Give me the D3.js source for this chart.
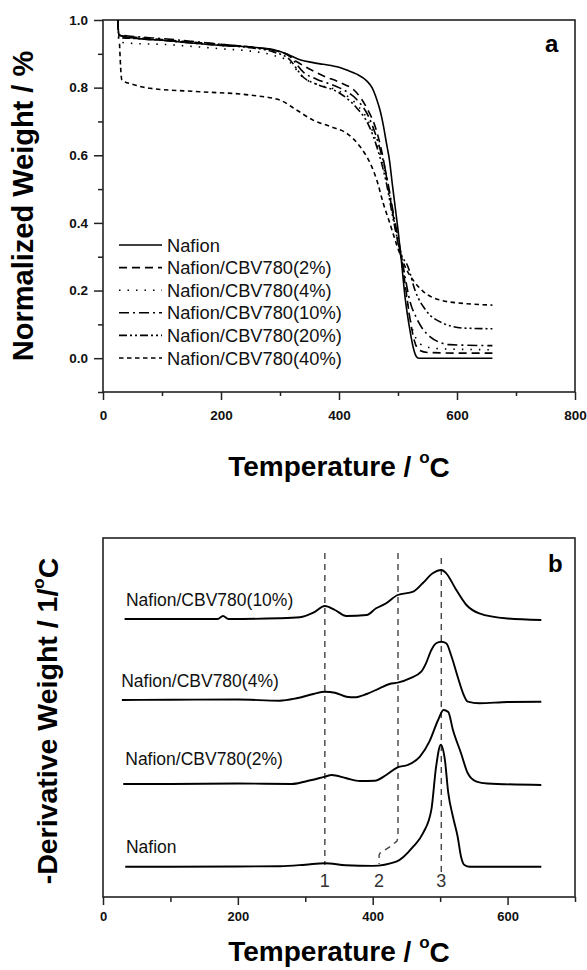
<!DOCTYPE html>
<html>
<head>
<meta charset="utf-8">
<script src="https://cdn.jsdelivr.net/npm/d3@7"></script>
<style>
body { margin: 0; background: #fff; }
text { font-family: Arial, "Liberation Sans", Helvetica, sans-serif; }
</style>
</head>
<body>
<div id="chart-area"></div>
<script>
// TGA (a) + DTG (b) curves for Nafion / CBV780 membranes

const WIDTH = 587
const HEIGHT = 970

// ---- panel a : normalized weight vs temperature
const tgaNames = ["Nafion", "Nafion/CBV780(2%)", "Nafion/CBV780(4%)", "Nafion/CBV780(10%)", "Nafion/CBV780(20%)", "Nafion/CBV780(40%)"]

const tgaNafion = [[25, 1.0], [27, 0.955], [60, 0.945], [100, 0.94], [150, 0.932], [200, 0.925], [250, 0.92], [290, 0.912], [316, 0.896], [335, 0.882], [356, 0.874], [373, 0.869], [400, 0.86], [413, 0.852], [430, 0.84], [447, 0.82], [456, 0.80], [464, 0.765], [470, 0.73], [475, 0.69], [480, 0.64], [486, 0.58], [490, 0.52], [495, 0.45], [500, 0.38], [505, 0.30], [512, 0.18], [520, 0.085], [526, 0.03], [531, 0.005], [535, 0], [660, 0]]
const tga2 = [[25, 1.0], [27, 0.955], [60, 0.948], [100, 0.942], [150, 0.935], [200, 0.928], [250, 0.92], [290, 0.91], [310, 0.9], [330, 0.875], [350, 0.855], [373, 0.835], [402, 0.815], [430, 0.785], [447, 0.74], [464, 0.67], [475, 0.59], [483, 0.51], [492, 0.42], [500, 0.34], [505, 0.30], [512, 0.22], [520, 0.12], [528, 0.05], [535, 0.025], [550, 0.017], [600, 0.015], [660, 0.015]]
const tga4 = [[25, 1.0], [27, 0.935], [60, 0.93], [100, 0.928], [150, 0.922], [200, 0.915], [250, 0.908], [290, 0.895], [317, 0.875], [339, 0.83], [362, 0.81], [400, 0.79], [430, 0.75], [450, 0.70], [465, 0.63], [480, 0.53], [492, 0.42], [505, 0.30], [512, 0.21], [520, 0.12], [530, 0.06], [545, 0.035], [570, 0.028], [660, 0.025]]
const tga10 = [[25, 1.0], [27, 0.957], [60, 0.95], [100, 0.945], [150, 0.937], [200, 0.928], [250, 0.92], [290, 0.91], [315, 0.895], [340, 0.845], [362, 0.825], [400, 0.80], [430, 0.765], [450, 0.715], [465, 0.645], [480, 0.545], [492, 0.43], [505, 0.31], [512, 0.24], [520, 0.17], [531, 0.12], [554, 0.064], [588, 0.04], [660, 0.037]]
const tga20 = [[25, 1.0], [27, 0.948], [60, 0.945], [100, 0.94], [150, 0.932], [200, 0.925], [250, 0.918], [290, 0.905], [315, 0.885], [340, 0.83], [362, 0.81], [400, 0.785], [430, 0.74], [450, 0.69], [465, 0.62], [480, 0.52], [492, 0.41], [505, 0.31], [517, 0.27], [529, 0.20], [548, 0.14], [577, 0.103], [611, 0.089], [660, 0.087]]
const tga40 = [[28, 0.93], [32, 0.822], [50, 0.81], [80, 0.798], [164, 0.788], [249, 0.778], [300, 0.763], [328, 0.734], [356, 0.704], [385, 0.685], [413, 0.665], [436, 0.625], [453, 0.576], [464, 0.527], [475, 0.458], [486, 0.40], [495, 0.35], [505, 0.30], [515, 0.26], [526, 0.23], [543, 0.197], [571, 0.172], [611, 0.162], [660, 0.157]]

const tgaXMajor = [0, 200, 400, 600, 800]
const tgaXMinor = [100, 300, 500, 700]
const tgaYMajor = [0, 0.2, 0.4, 0.6, 0.8, 1.0]
const tgaYMinor = [-0.1, 0.1, 0.3, 0.5, 0.7, 0.9]

// ---- panel b : derivative weight (arbitrary units), stacked with offsets
const dtgNames = ["Nafion", "Nafion/CBV780(2%)", "Nafion/CBV780(4%)", "Nafion/CBV780(10%)"]
const dtgOffsets = [3.03, 11.3, 19.7, 27.8]

const dtgNafion = [[33, 0], [100, 0], [200, 0.02], [262, 0.05], [300, 0.2], [329, 0.35], [360, 0.15], [400, 0.08], [435, 0.5], [460, 2.0], [475, 3.4], [487, 5.7], [494, 10.0], [501, 12.2], [507, 10.7], [512, 7.4], [519, 5.0], [526, 3.0], [531, 1.0], [536, 0.17], [544, 0], [600, 0], [650, 0]]
const dtg2 = [[30, 0], [100, 0], [200, 0.05], [280, 0], [299, 0.23], [329, 0.73], [339, 0.9], [361, 0.57], [381, 0.3], [403, 0.33], [420, 0.9], [437, 1.67], [452, 1.9], [470, 2.73], [484, 4.23], [497, 6.4], [505, 7.4], [512, 7.2], [519, 5.4], [531, 3.07], [541, 1.07], [554, 0.23], [570, 0.05], [650, -0.1]]
const dtg4 = [[28, 0], [100, 0.02], [200, 0.05], [262, -0.07], [287, 0.17], [312, 0.6], [329, 0.83], [344, 0.73], [361, 0.33], [373, 0.27], [391, 0.6], [410, 1.17], [425, 1.6], [437, 1.73], [455, 2.17], [472, 2.83], [479, 3.67], [487, 5.0], [494, 5.67], [502, 5.83], [509, 5.67], [517, 4.33], [526, 2.33], [534, 0.67], [541, -0.17], [558, -0.33], [600, -0.2], [650, -0.17]]
const dtg10 = [[32, 0], [100, 0], [170, 0], [178, 0.3], [186, 0], [262, 0.07], [292, 0.17], [312, 0.63], [329, 1.3], [344, 0.9], [361, 0.3], [391, 0.4], [405, 1.07], [420, 1.57], [437, 2.4], [460, 2.73], [474, 3.57], [489, 4.57], [502, 4.9], [509, 4.57], [524, 2.9], [539, 1.4], [558, 0.57], [600, 0.05], [650, -0.1]]

// stage markers 1, 2, 3
const dtgStageLabels = ["1", "2", "3"]
const dtgStageTemps = [329, 409.5, 501.7]
const dtgStage1 = [[329, 34.4], [329, 3.2]]
const dtgStage2 = [[437.5, 34.4], [437.5, 6.0], [436, 5.6], [427, 5.1], [418, 4.7], [411, 4.4], [409.5, 4.2], [409.5, 3.3]]
const dtgStage3 = [[501.7, 33.9], [501.7, 2.5]]

const dtgXMajor = [0, 200, 400, 600]
const dtgXMinor = [100, 300, 500, 700]

// ---------------------------------------------------------------

const svg = d3.select("#chart-area").append("svg")
    .attr("width", WIDTH)
    .attr("height", HEIGHT)

const FRAME = "#222"

// ===== panel a
const xA = d3.scaleLinear().domain([0, 800]).range([103, 575])
const yA = d3.scaleLinear().domain([-0.1, 1.0]).range([392, 20])

const gA = svg.append("g")

gA.append("rect")
    .attr("x", xA(0))
    .attr("y", yA(1.0))
    .attr("width", xA(800) - xA(0))
    .attr("height", yA(-0.1) - yA(1.0))
    .attr("fill", "none")
    .attr("stroke", FRAME)
    .attr("stroke-width", 1.6)

const axA_x = gA.append("g")
    .attr("transform", `translate(0, ${yA(-0.1)})`)
    .call(d3.axisBottom(xA).tickValues(tgaXMajor).tickSize(8).tickPadding(10).tickFormat(d3.format("d")))
axA_x.append("g")
    .call(d3.axisBottom(xA).tickValues(tgaXMinor).tickSize(4).tickFormat(""))

const axA_y = gA.append("g")
    .attr("transform", `translate(${xA(0)}, 0)`)
    .call(d3.axisLeft(yA).tickValues(tgaYMajor).tickSize(9).tickPadding(6).tickFormat(d3.format(".1f")))
axA_y.append("g")
    .call(d3.axisLeft(yA).tickValues(tgaYMinor).tickSize(5).tickFormat(""))

gA.selectAll(".domain").remove()
gA.selectAll(".tick line").attr("stroke", FRAME).attr("stroke-width", 1.5)
gA.selectAll(".tick text")
    .attr("font-size", "13.5px")
    .attr("font-weight", "bold")
    .attr("font-family", "Arial, 'Liberation Sans', sans-serif")
    .attr("fill", "#111")

const tgaData = [tgaNafion, tga2, tga4, tga10, tga20, tga40]
const tgaDash = ["none", "8,5", "1.5,7", "10,4,2,4", "8,3,2,3,2,3", "4.5,3.5"]

const lineA = d3.line()
    .x(d => xA(d[0]))
    .y(d => yA(d[1]))
    .curve(d3.curveMonotoneX)

gA.selectAll(".tga")
    .data(tgaData)
    .enter().append("path")
    .attr("class", "tga")
    .attr("d", lineA)
    .attr("fill", "none")
    .attr("stroke", "#000")
    .attr("stroke-width", 1.6)
    .attr("stroke-dasharray", (d, i) => tgaDash[i])

// legend
tgaNames.forEach((name, i) => {
    const row = gA.append("g")
        .attr("transform", `translate(119, ${245 + i * 22.6})`)
    row.append("line")
        .attr("x1", 0)
        .attr("x2", 43)
        .attr("stroke", "#000")
        .attr("stroke-width", 1.6)
        .attr("stroke-dasharray", tgaDash[i])
    row.append("text")
        .attr("x", 48)
        .attr("dy", "0.36em")
        .attr("font-size", "18.3px")
        .attr("fill", "#111")
        .text(name)
})

gA.append("text")
    .attr("x", 545)
    .attr("y", 52)
    .attr("font-size", "24px")
    .attr("font-weight", "bold")
    .text("a")

// axis titles
const titleA = gA.append("text")
    .attr("x", 339)
    .attr("y", 476)
    .attr("text-anchor", "middle")
    .attr("font-size", "28px")
    .attr("font-weight", "bold")
titleA.append("tspan").text("Temperature / ")
titleA.append("tspan").attr("font-size", "17px").attr("dy", "-0.75em").text("o")
titleA.append("tspan").attr("dy", "0.48em").text("C")

gA.append("text")
    .attr("transform", "translate(33, 206) rotate(-90)")
    .attr("text-anchor", "middle")
    .attr("font-size", "29px")
    .attr("font-weight", "bold")
    .text("Normalized Weight / %")

// ===== panel b
const xB = d3.scaleLinear().domain([0, 700]).range([103, 575])
const yB = d3.scaleLinear().domain([0, 36]).range([897, 537])

const gB = svg.append("g")

gB.append("rect")
    .attr("x", xB(0))
    .attr("y", 538)
    .attr("width", xB(700) - xB(0))
    .attr("height", yB(0) - 538)
    .attr("fill", "none")
    .attr("stroke", FRAME)
    .attr("stroke-width", 1.6)

const axB_x = gB.append("g")
    .attr("transform", `translate(0, ${yB(0)})`)
    .call(d3.axisBottom(xB).tickValues(dtgXMajor).tickSize(8).tickPadding(7).tickFormat(d3.format("d")))
axB_x.append("g")
    .call(d3.axisBottom(xB).tickValues(dtgXMinor).tickSize(5).tickFormat(""))

gB.selectAll(".domain").remove()
gB.selectAll(".tick line").attr("stroke", FRAME).attr("stroke-width", 1.5)
gB.selectAll(".tick text")
    .attr("font-size", "13px")
    .attr("font-weight", "bold")
    .attr("font-family", "Arial, 'Liberation Sans', sans-serif")
    .attr("fill", "#111")

// stage guide lines
const lineRef = d3.line()
    .x(d => xB(d[0]))
    .y(d => yB(d[1]))

gB.selectAll(".stage")
    .data([dtgStage1, dtgStage2, dtgStage3])
    .enter().append("path")
    .attr("class", "stage")
    .attr("d", lineRef)
    .attr("fill", "none")
    .attr("stroke", "#444")
    .attr("stroke-width", 1.4)
    .attr("stroke-dasharray", "6,5")

dtgStageLabels.forEach((lab, i) => {
    gB.append("text")
        .attr("x", xB(dtgStageTemps[i]))
        .attr("y", 887)
        .attr("text-anchor", "middle")
        .attr("font-size", "18px")
        .attr("fill", "#333")
        .text(lab)
})

const dtgData = [dtgNafion, dtg2, dtg4, dtg10]
const labelLift = [14, 19, 13, 13]
const labelStart = [34, 33, 27, 34]

dtgData.forEach((series, i) => {
    const lineB = d3.line()
        .x(d => xB(d[0]))
        .y(d => yB(d[1] + dtgOffsets[i]))
        .curve(d3.curveMonotoneX)

    gB.append("path")
        .datum(series)
        .attr("d", lineB)
        .attr("fill", "none")
        .attr("stroke", "#000")
        .attr("stroke-width", 1.9)

    gB.append("text")
        .attr("x", xB(labelStart[i]))
        .attr("y", yB(dtgOffsets[i]) - labelLift[i])
        .attr("font-size", "17.5px")
        .attr("fill", "#111")
        .text(dtgNames[i])
})

gB.append("text")
    .attr("x", 548)
    .attr("y", 572)
    .attr("font-size", "24px")
    .attr("font-weight", "bold")
    .text("b")

const titleB = gB.append("text")
    .attr("x", 339)
    .attr("y", 961)
    .attr("text-anchor", "middle")
    .attr("font-size", "28px")
    .attr("font-weight", "bold")
titleB.append("tspan").text("Temperature / ")
titleB.append("tspan").attr("font-size", "17px").attr("dy", "-0.75em").text("o")
titleB.append("tspan").attr("dy", "0.48em").text("C")

const yTitleB = gB.append("text")
    .attr("transform", "translate(57, 721) rotate(-90)")
    .attr("text-anchor", "middle")
    .attr("font-size", "28.5px")
    .attr("font-weight", "bold")
yTitleB.append("tspan").text("-Derivative Weight / 1/")
yTitleB.append("tspan").attr("font-size", "17px").attr("dy", "-0.75em").text("o")
yTitleB.append("tspan").attr("dy", "0.48em").text("C")
</script>
</body>
</html>
